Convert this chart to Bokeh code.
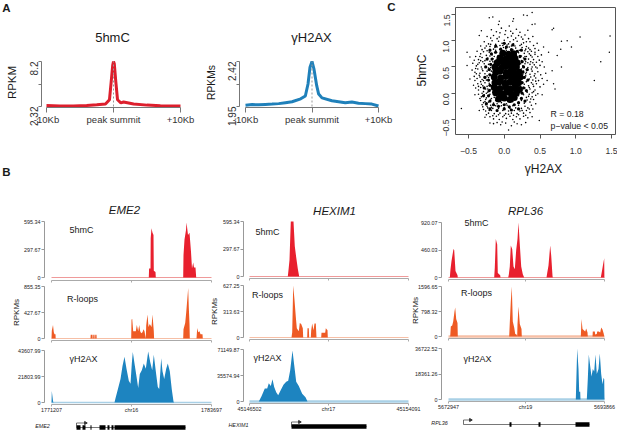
from math import pi
from bokeh.core.properties import value
from bokeh.embed import file_html
from bokeh.layouts import column
from bokeh.models import FixedTicker, LinearAxis, Range1d
from bokeh.plotting import figure
from bokeh.resources import INLINE

FONT = "Liberation Sans"
RED, ORANGE, BLUE = "#e8202e", "#ee5a24", "#1d84c0"
RED_L, ORANGE_L, BLUE_L = "#ef9a9a", "#f6bfa6", "#a9d0e6"
PAD_L, PAD_R = 40, 30

# ---- Panel A, average profiles
kb_5hmc = [-10, -8, -6, -4, -2.5, -1.2, -0.6, -0.35, -0.12, 0, 0.12, 0.35, 0.6, 1.1, 1.5, 3, 5, 7, 10]
val_5hmc = [2.45, 2.4, 2.4, 2.45, 2.55, 2.65, 3.2, 5.5, 7.7, 8.2, 7.9, 5.5, 3.2, 2.8, 2.9, 2.65, 2.5, 2.42, 2.38]
kb_h2ax = [-10, -9, -8, -7, -6, -5, -4, -3, -1.7, -1, -0.6, -0.3, 0, 0.3, 0.7, 1, 1.5, 3, 4, 5, 6, 7, 8, 9, 10]
val_h2ax = [1.964, 1.97, 1.968, 1.972, 1.975, 1.98, 1.99, 2.0, 2.03, 2.06, 2.185, 2.36, 2.42, 2.34, 2.17, 2.08, 2.04, 2.01, 2.0, 1.99, 1.996, 1.985, 1.98, 1.975, 1.955]

# ---- Panel C, scatter
scatter_outer = [(-.60,-.29),(1.26,.24),(1.35,.60),(1.47,.78),(1.48,1.09),(1.06,1.07),(.94,.88),(.88,1.0),(.80,.99),(.79,.84),
 (.69,1.24),(.67,1.21),(.74,.72),(.80,.50),(.39,1.54),(.27,1.49),(.32,1.48),(.43,1.32),(.39,1.31),(.13,1.42),(.12,1.37),
 (-.07,1.37),(-.08,1.31),(-.16,1.45),(-.21,1.44),(-.32,1.19),(-.35,1.10),(-.52,.78),(-.52,.53),(-.48,.69),(-.42,.63),
 (-.48,.27),(-.43,.15),(-.41,.24),(-.41,-.03),(-.35,-.33),(-.27,-.46),(-.2,-.57),(-.03,-.55),(.06,-.70),(.18,-.58),(.49,-.52),
 (.71,.08),(.69,.18),(.60,.24),(.53,-.03),(.67,.43),(.62,.78),(.55,.88)]
scatter_mid = [(-.18,1.21),(-.11,1.17),(-.04,1.24),(.02,1.19),(.07,1.28),(.12,1.14),(.17,1.22),(.22,1.16),(.29,1.11),(.33,1.2),(-.24,1.08),
 (-.15,1.1),(-.07,1.07),(.01,1.12),(.05,1.06),(.1,1.09),(.16,1.05),(.2,1.1),(.26,1.03),(.34,1.04),(.4,1.08),(-.28,.98),(-.22,.94),(-.17,1.0),
 (-.12,.93),(-.08,.99),(-.03,.95),(.0,1.01),(.04,.92),(.08,.98),(.13,.94),(.18,.99),(.22,.91),(.27,.96),(.31,.89),(.36,.98),(.41,.91),(.46,.95),
 (-.33,.9),(-.27,.86),(-.2,.89),(-.15,.84),(-.1,.88),(-.05,.83),(-.01,.87),(.03,.82),(.07,.88),(.12,.83),(.16,.86),(.21,.82),(.25,.87),(.29,.81),
 (.34,.86),(.38,.8),(.43,.85),(.48,.82),(-.38,.8),(-.33,.75),(-.29,.79),(-.25,.72),(-.21,.78),(-.17,.73),(-.13,.77),(-.09,.71),(-.05,.76),(.12,.75),
 (.17,.72),(.2,.77),(.24,.71),(.28,.76),(.31,.7),(.35,.75),(.39,.69),(.43,.74),(.47,.7),(.52,.73),(-.4,.7),(-.36,.64),(-.31,.68),(-.27,.62),(-.23,.67),
 (-.2,.61),(-.16,.66),(.24,.62),(.27,.67),(.3,.6),(.34,.65),(.37,.6),(.41,.64),(.45,.59),(.49,.63),(.53,.6),(-.44,.57),(-.39,.52),(-.35,.58),(-.32,.5),
 (-.28,.56),(-.25,.5),(-.22,.55),(-.19,.49),(.26,.52),(.29,.56),(.33,.49),(.36,.55),(.39,.5),(.42,.54),(.46,.48),(.5,.53),(.56,.5),(-.45,.44),(-.41,.4),
 (-.37,.46),(-.34,.38),(-.3,.43),(-.27,.37),(-.24,.42),(-.21,.36),(.27,.42),(.3,.37),(.33,.44),(.36,.36),(.39,.42),(.43,.37),(.47,.41),(.51,.35),(.58,.38),
 (-.42,.32),(-.38,.28),(-.35,.34),(-.31,.26),(-.28,.31),(-.25,.25),(-.22,.3),(.26,.28),(.3,.33),(.33,.26),(.37,.31),(.4,.25),(.44,.29),(.48,.24),(.53,.28),
 (-.37,.18),(-.33,.22),(-.3,.14),(-.27,.2),(-.24,.13),(-.21,.19),(.28,.17),(.31,.22),(.34,.14),(.38,.2),(.41,.13),(.45,.18),(.5,.12),(.55,.17),(-.4,.1),
 (-.36,.06),(-.33,.11),(-.29,.03),(-.26,.08),(-.23,.02),(-.2,.07),(.25,.06),(.29,.1),(.32,.02),(.36,.08),(.39,.01),(.43,.06),(.47,-.01),(-.36,-.02),(-.32,-.07),
 (-.28,-.03),(-.25,-.09),(-.21,-.04),(-.18,-.1),(.2,-.05),(.24,-.09),(.27,-.03),(.31,-.08),(.35,-.02),(.39,-.07),(.44,-.04),(-.33,-.14),(-.29,-.18),(-.26,-.12),
 (-.22,-.17),(-.19,-.13),(-.15,-.19),(-.12,-.14),(.12,-.16),(.16,-.12),(.2,-.18),(.24,-.14),(.28,-.19),(.32,-.13),(.36,-.17),(.41,-.12),(-.3,-.26),(-.26,-.22),
 (-.23,-.28),(-.19,-.23),(-.16,-.29),(-.12,-.24),(-.08,-.29),(-.04,-.24),(0,-.28),(.04,-.23),(.08,-.29),(.12,-.24),(.16,-.28),(.2,-.23),(.24,-.29),(.29,-.25),
 (.33,-.28),(.38,-.23),(-.26,-.34),(-.22,-.38),(-.18,-.33),(-.14,-.39),(-.1,-.34),(-.06,-.38),(-.02,-.33),(.02,-.39),(.06,-.34),(.1,-.38),(.14,-.33),(.18,-.39),
 (.22,-.34),(.27,-.38),(.31,-.33),(.36,-.37),(-.2,-.45),(-.15,-.49),(-.11,-.44),(-.07,-.5),(-.02,-.45),(.03,-.48),(.08,-.44),(.12,-.5),(.17,-.45),(.22,-.49),(.27,-.44),
 (.33,-.47),(.39,-.45),(-.1,-.56),(-.05,-.6),(.02,-.57),(.1,-.62),(.14,-.55),(.24,-.6),(.3,-.56),(-.15,-.58),
 (-.16,.6),(-.18,.42),(-.17,.28),(-.18,.14),(-.16,.02),(-.14,-.08),(.26,.36),(.24,.46),(.23,.56),(.22,.68),(.19,.02),(.23,.12),(-.1,.64),(-.05,.7),(.02,.76),(.08,.72),
 (-.14,.7),(.15,.69),(-.1,-.2),(-.04,-.18),(.03,-.2),(.08,-.17),(-.06,.91),(.1,.9),(.02,.85),(-.12,.82),(.18,.79),(-.2,.71),(-.22,.48),(-.24,.33),(-.23,.08),(-.2,-.02),
 (-.31,.83),(-.24,.81),(-.19,.93),(-.13,.87),(-.02,.91),(.06,.94),(.15,.9),(.24,.93),(.3,.84),(.36,.83),(-.34,.7),(-.3,.6),(-.33,.62),(-.37,.55),(-.4,.47),(-.31,.46),(-.34,.31),
 (-.39,.37),(-.29,.24),(-.32,.17),(-.36,.13),(-.28,.09),(-.31,.0),(-.25,.0),(-.34,-.1),(-.27,-.16),(-.31,-.22),(-.24,-.25),(-.18,-.27),(-.21,-.33),(-.29,-.31),(-.16,-.43),(-.25,-.41),
 (-.08,-.41),(0,-.42),(.06,-.4),(.13,-.42),(.2,-.41),(.25,-.33),(.3,-.42),(.35,-.3),(.4,-.3),(.44,-.2),(.37,-.11),(.34,-.06),(.41,.03),(.35,.11),(.4,.17),(.44,.23),(.35,.27),(.42,.33),
 (.31,.4),(.38,.46),(.44,.5),(.33,.58),(.4,.58),(.29,.7),(.37,.72),(.43,.78),(.33,.79),(-.06,1.15),(.09,1.18),(.24,1.07),(-.19,1.05),(-.1,1.04),(.13,1.02),(.31,.98),(-.25,.9)]
scatter_halo = [(-.2,-.15),(-.22,-.05),(-.21,.05),(-.2,.15),(-.22,.25),(-.2,.35),(-.21,.45),(-.19,.55),(-.17,.65),(-.18,.75),(.24,-.1),(.25,0),(.27,.1),(.25,.2),(.28,.3),(.26,.4),(.27,.5),(.25,.6),(.22,.7),(.18,.8),
 (-.15,-.22),(-.08,-.25),(0,-.22),(.07,-.26),(.14,-.22),(.2,-.18),(-.12,.78),(-.05,.84),(.03,.88),(.1,.83),(-.28,.1),(-.27,.3),(-.26,.5),(-.24,.65),(-.29,-.05),(-.25,-.2),(.31,.05),(.33,.25),(.32,.45),(.29,.65),(.29,-.15),(.1,-.32),(-.1,-.33),(0,-.3),(-.2,-.3),(.2,-.3),(.0,.95),(.12,.92),(-.12,.9),(.24,.82),(-.2,.82)]
core_x = [-.08,0,.08,.14,-.12,-.05,.03,.1,.17,-.14,-.06,.02,.09,.16,.21,-.13,-.07,.01,.08,.15,.2,-.14,-.05,.02,.1,.16,.22,-.12,-.06,.03,.09,.15,.21,-.13,-.04,.02,.1,.17,-.1,-.03,.04,.11,.18,-.06,.02,.09,.15,-.02,.06,.13]
core_y = [-.11,-.09,-.12,-.08,.01,-.01,.02,-.02,.01,.11,.09,.12,.08,.1,.07,.2,.22,.19,.21,.18,.2,.31,.29,.32,.3,.28,.31,.4,.42,.39,.41,.38,.4,.5,.48,.51,.49,.5,.58,.6,.57,.59,.58,.67,.65,.68,.66,.76,.74,.75]

# ---- Panel B, tracks: position along the locus, signal in % of track maximum
eme2_5hmc_x = [97.3,97.6,99,99.2,100,101,102,102.3,104,104.3,131.7,132,133,134.5,135,136.5,138,139.5,140.5,141.7,142.5,144,144.7]
eme2_5hmc_y = [0,16,16,70,88,80,76,12,10,0,0,40,68,85,98,76,80,46,16,27,18,18,0]
eme2_rloop_x = [0,.3,1.5,2.3,3,4,4.2,39,39.2,41,41.2,41.6,41.8,43,43.2,43.6,43.8,45,45.2,79.7,80,80.7,81.7,84.3,85.3,86.7,87.7,88.7,89.7,91,92,93,94.3,94.7,96,97,98.3,100,101,102.3,102.6,131.7,132,133.7,134.7,136.7,137.3,138,138.3,145,145.7,146.7,148,149,151,151.3]
eme2_rloop_y = [0,15,26,12,8,8,0,0,7,7,0,0,7,7,0,0,7,7,0,0,36,38,14,14,26,14,26,14,10,12,18,14,0,25,46,22,28,22,46,14,0,0,18,30,50,97,60,28,0,0,20,12,14,8,8,0]
eme2_h2ax_x = [0,.3,1.6,2,63,64,66.3,69,71,73,75,77.3,79,80.3,81.3,83,85,86.7,88.3,90.3,92.3,94.3,96.7,98.7,100.7,102.3,104.3,106.3,107.7,109.7,111,112.7,114.7,116.3,118.3,120.3,122,122.5]
eme2_h2ax_y = [0,22,2,0,0,8,25,45,70,88,65,42,36,75,97,75,50,28,55,62,75,65,98,78,62,92,60,30,26,85,60,45,65,75,60,25,2,0]
hex_5hmc_x = [38.3,39,40,41.3,44,45.3,46.7,48.3,49.7]
hex_5hmc_y = [0,12,30,100,100,55,35,14,0]
hex_rloop_x = [42,42.7,43.7,45,46.3,47.3,49.3,50.3,51.7,53.3,53.7,57.7,58,59.3,59.7,61.3,61.7,62.7,64,65,66.3,67,71.7,72,75.7,76.3,78,78.3]
hex_rloop_y = [0,10,100,72,40,18,12,28,26,18,0,0,18,18,0,0,14,27,14,27,27,0,0,9,9,18,14,0]
hex_h2ax_x = [9.3,12,15.3,17.7,19.3,21.3,23,24.7,26.7,28.7,31.3,34,36.7,38.7,40.7,43,44.7,46.7,49.3,52.7,56,58]
hex_h2ax_y = [0,10,25,25,35,30,43,28,18,12,22,32,38,40,60,98,70,38,30,15,8,0]
rpl_5hmc_x = [1.3,2,3,5,5.7,7,9,9.3,45.7,46.3,47.3,48.7,49.3,51.7,52,59.7,60.3,61.3,62.3,63.7,65,66.3,67.7,69,70,71.3,72.7,74.3,75.7,98,98.7,100,101.7,102.7,104,104.3,152.3,153.3,154.7,155.7,155.9]
rpl_5hmc_y = [0,15,30,52,50,12,4,0,0,18,70,60,8,4,0,0,5,20,58,52,20,15,50,70,100,60,20,6,0,0,8,22,58,40,3,0,0,10,25,35,0]
rpl_rloop_x = [1.7,2.3,3.7,4.7,6,6.7,7.7,9,9.3,60.7,61.3,62.3,63.3,64.3,65.7,66.7,68,68.7,69,70,71.3,73,73.3,132.3,133,134,136.7,137.7,139,139.3,144,144.3,146.3,146.7,148.3,148.7,150.3,151.7,152.7,154,155.3,155.7]
rpl_rloop_y = [0,20,22,30,50,58,35,27,0,0,28,70,100,30,18,5,4,0,25,60,25,15,0,0,35,15,10,16,8,0,0,10,10,4,5,10,10,8,18,14,5,0]
rpl_h2ax_x = [127.3,128.7,130,130.7,131.7,132,138.3,139.3,140.3,141.7,143,144.3,145.7,147,148.3,150,151.3,152.7,154,155,155.7,156]
rpl_h2ax_y = [0,100,60,15,15,0,0,40,88,65,45,60,55,88,50,60,90,50,30,42,40,0]

# ---- Gene models: exon start / end, transcript span in the same positions
eme2_exon_s, eme2_exon_e = [25,31,39,48,56,60,63], [29,34,40,54,58,62,134]
eme2_span, eme2_tss = (25, 134), (25, 34)
hex_exon_s, hex_exon_e = [42], [117]
hex_span, hex_tss = (42, 117), (42, 50)
rpl_exon_s, rpl_exon_e = [61,90,127], [63,92,141]
rpl_span, rpl_tss = (15, 141), (15, 22)


def panel(L, R, T, B, x_cal, y_cal):
    """Figure whose frame occupies page box L..R, T..B; *_cal = (px0, val0, px1, val1)."""
    pt, pb = min(T, 8), min(430 - B, 24)
    sx = (x_cal[3] - x_cal[1]) / (x_cal[2] - x_cal[0])
    sy = (y_cal[3] - y_cal[1]) / (y_cal[2] - y_cal[0])
    fig = figure(width=R - L + PAD_L + PAD_R, height=B - T + pt + pb, output_backend="svg", toolbar_location=None,
                 x_range=Range1d(x_cal[1] + (L - x_cal[0]) * sx, x_cal[1] + (R - x_cal[0]) * sx),
                 y_range=Range1d(y_cal[1] + (B - y_cal[0]) * sy, y_cal[1] + (T - y_cal[0]) * sy),
                 min_border_left=PAD_L, min_border_right=PAD_R, min_border_top=pt, min_border_bottom=pb,
                 x_axis_location=None, y_axis_location=None, background_fill_color=None, border_fill_color=None,
                 outline_line_color=None, tools="",
                 styles={"position": "absolute", "left": f"{L - PAD_L}px", "top": f"{T - pt}px"})
    fig.grid.visible = False
    return fig


def axis(fig, side, ticks, labels, bounds, color, text_color, size, tick_out, standoff, vertical=False):
    ax = LinearAxis(ticker=FixedTicker(ticks=ticks), major_label_overrides=dict(zip(ticks, labels)), bounds=bounds,
                    axis_line_color=color, major_tick_line_color=color, minor_tick_line_color=None,
                    major_tick_in=0, major_tick_out=tick_out, major_label_standoff=standoff,
                    major_label_text_font=FONT, major_label_text_font_size=size, major_label_text_color=text_color)
    if vertical:
        ax.major_label_orientation = pi / 2
    fig.add_layout(ax, side)
    return ax


# Panel A
profiles = []
for xs, ys, col, L, x0, x1, lo, hi, lo_l, hi_l in [
        (kb_5hmc, val_5hmc, "#dd1f2d", 41, 46, 180, 2.32, 8.2, "2.32", "8.2"),
        (kb_h2ax, val_h2ax, "#1f80ba", 239, 245, 378, 1.95, 2.42, "1.95", "2.42")]:
    f = panel(L, x1 + 3, 58, 107, (x0, -10, x1, 10), (106, lo, 61, hi))
    f.line(xs, ys, line_color=col, line_width=3)
    f.line([0, 0], [lo, hi], line_color="#999999", line_dash="2 2", line_width=1)
    axis(f, "below", [-10, 0, 10], ["-10Kb", "peak summit", "+10Kb"], (-10, 10), "#777777", "#333333", "9.5px", 5, 1)
    axis(f, "left", [lo, (lo + hi) / 2, hi], [lo_l, "", hi_l], (lo, hi), "#777777", "#333333", "10px", 3, 5, vertical=True)
    profiles.append(f)

# Panel C
sc = panel(455, 615, 7, 134, (468, -0.5, 611, 1.5), (92.7, 0.0, 14, 1.5))
sc.outline_line_color = "#555555"
sc.scatter(core_x, core_y, size=7, color="black", line_color=None)
sc.scatter([p[0] for p in scatter_halo], [p[1] for p in scatter_halo], size=3.2, color="black", line_color=None)
sc.scatter([p[0] for p in scatter_mid], [p[1] for p in scatter_mid], size=1.6, color="black", line_color=None)
sc.scatter([p[0] for p in scatter_outer], [p[1] for p in scatter_outer], size=1.5, color="black", line_color=None)
xt = [-0.5, 0.0, 0.5, 1.0, 1.5]
axis(sc, "below", xt, ["−0.5", "0.0", "0.5", "1.0", "1.5"], (-0.5, 1.5), "#555555", "#333333", "8.6px", 4, 9).axis_line_color = None
axis(sc, "left", xt, ["−0.5", "0.0", "0.5", "1.0", "1.5"], (-0.5, 1.5), "#555555", "#333333", "8.6px", 4, 5, vertical=True).axis_line_color = None

# Panel B tracks
columns_spec = [
    dict(yax=44, start=51, end=211, mid=80, right=160, labels=["1771207", "chr16", "1783697"], rows=[
        (221, 277, 280, 595.34, "297.67", eme2_5hmc_x, eme2_5hmc_y, RED, RED_L, 1),
        (286, 338, 340, 855.35, "427.67", eme2_rloop_x, eme2_rloop_y, ORANGE, ORANGE_L, 1),
        (350, 402, 404, 43607.99, "21803.99", eme2_h2ax_x, eme2_h2ax_y, BLUE, BLUE_L, 1.5)]),
    dict(yax=243, start=249, end=408, mid=79, right=159, labels=["45146502", "chr17", "45154091"], rows=[
        (221, 276, 278, 595.34, "297.67", hex_5hmc_x, hex_5hmc_y, RED, RED_L, 1),
        (285, 337, 339, 627.25, "313.63", hex_rloop_x, hex_rloop_y, ORANGE, ORANGE_L, 1),
        (349, 401, 403, 71149.87, "35574.94", hex_h2ax_x, hex_h2ax_y, BLUE, BLUE_L, 2.5)]),
    dict(yax=441, start=448, end=604, mid=77, right=156, labels=["5672947", "chr19", "5693866"], rows=[
        (222, 277, 279, 920.07, "460.03", rpl_5hmc_x, rpl_5hmc_y, RED, RED_L, 1),
        (286, 336, 338, 1596.65, "798.32", rpl_rloop_x, rpl_rloop_y, ORANGE, ORANGE_L, 2.5),
        (348, 399, 401, 36722.52, "18361.26", rpl_h2ax_x, rpl_h2ax_y, BLUE, BLUE_L, 2.5)]),
]
tracks = []
for c in columns_spec:
    for i, (top, base, ax_y, ymax, mid_l, xs, pct, col, col_l, base_w) in enumerate(c["rows"]):
        f = panel(c["yax"], c["end"] + 1, top - 2, ax_y, (c["start"], 0, c["end"], c["right"]), (base, 0, top, ymax))
        ys = [v * ymax / 100 for v in pct]
        f.line([0, c["right"]], [0, 0], line_color=col_l, line_width=base_w)
        f.varea(xs, [0] * len(xs), ys, fill_color=col)
        last = i == 2
        axis(f, "below", [0, c["mid"], c["right"]], c["labels"] if last else ["", "", ""], (0, c["right"]),
             "#aaaaaa", "#222222", "5.4px" if last else "1px", 2, 0)
        axis(f, "left", [0, ymax / 2, ymax], ["0", mid_l, f"{ymax:.2f}"], (0, ymax), "#999999", "#222222", "5.4px", 3, 1)
        tracks.append(f)

# Gene models
genes = []
for c, ys_top, s, e, span, tss, thin in [
        (columns_spec[0], 421, eme2_exon_s, eme2_exon_e, eme2_span, eme2_tss, 427),
        (columns_spec[1], 420, hex_exon_s, hex_exon_e, hex_span, hex_tss, 426),
        (columns_spec[2], 418, rpl_exon_s, rpl_exon_e, rpl_span, rpl_tss, 424)]:
    g = panel(c["start"], c["end"], ys_top - 2, 430, (c["start"], 0, c["end"], c["right"]), (430, 0, ys_top, 430 - ys_top))
    mid = 430 - thin  # vertical data units are pixels above the strip's bottom edge
    g.line(list(span), [mid, mid], line_color="#555555", line_width=0.8)
    g.quad(left=s, right=e, bottom=[mid - 2.2] * len(s), top=[mid + 2.2] * len(s), fill_color="black", line_color=None)
    g.line([tss[0], tss[0], tss[1]], [mid, mid + 4.5, mid + 4.5], line_color="#333333", line_width=0.7)
    g.scatter([tss[1]], [mid + 4.5], marker="triangle", size=3, angle=-pi / 2, color="#333333")
    genes.append(g)

# Free texts, in page coordinates on a background sheet
BGW = 617 + PAD_L + PAD_R
bg = figure(width=BGW, height=430, x_range=Range1d(0, 617), y_range=Range1d(430, 0), output_backend="svg",
            toolbar_location=None, x_axis_location=None, y_axis_location=None, tools="",
            min_border_left=PAD_L, min_border_right=PAD_R, min_border_top=0, min_border_bottom=0,
            outline_line_color=None, background_fill_color=None, border_fill_color=None,
            styles={"position": "absolute", "left": f"{-PAD_L}px", "top": "0px",
                    "width": f"{BGW}px", "min-width": f"{BGW}px", "max-width": "none"})
bg.grid.visible = False
texts = [
    ("A", 6, 7, 11.5, "bold", 0), ("B", 6, 171, 11.5, "bold", 0), ("C", 391, 6, 11.5, "bold", 0),
    ("5hmC", 112, 37, 13, "normal", 0), ("γH2AX", 311, 37, 13, "normal", 0),
    ("RPKM", 11, 82, 11.5, "normal", 90), ("RPKMs", 211, 82, 10.3, "normal", 90),
    ("5hmC", 421, 70, 12, "normal", 90), ("γH2AX", 543, 168, 12, "normal", 0),
    ("EME2", 124, 209.5, 11.5, "italic", 0), ("HEXIM1", 334, 210, 11.5, "italic", 0), ("RPL36", 525, 210, 11.5, "italic", 0),
    ("5hmC", 81, 229, 9, "normal", 0), ("R-loops", 82, 298, 9, "normal", 0), ("γH2AX", 83, 358, 9, "normal", 0),
    ("5hmC", 267, 231, 9, "normal", 0), ("R-loops", 267, 294, 9, "normal", 0), ("γH2AX", 267, 357, 9, "normal", 0),
    ("5hmC", 476, 222, 9, "normal", 0), ("R-loops", 476, 292, 9, "normal", 0), ("γH2AX", 477, 358, 9, "normal", 0),
    ("RPKMs", 16, 312, 8, "normal", 90), ("RPKMs", 214, 311, 8, "normal", 90), ("RPKMs", 415, 310, 8, "normal", 90),
    ("EME2", 42, 425, 5.4, "italic", 0), ("HEXIM1", 238, 424, 5.4, "italic", 0), ("RPL36", 439, 422, 5.4, "italic", 0),
]
for t, x, y, s, st, ang in texts:
    bg.text([x], [y], text=[t], text_font=value(FONT), text_font_size=f"{s}px", text_font_style=st,
            text_align="center", text_baseline="middle", text_color="#1a1a1a", angle=ang * pi / 180)
for t, y in [("R = 0.18", 113), ("p−value < 0.05", 125)]:
    bg.text([550], [y], text=[t], text_font=value(FONT), text_font_size="8.7px", text_align="left",
            text_baseline="middle", text_color="#222222")

root = column(children=[bg] + profiles + [sc] + tracks + genes, width=617, height=430, margin=0,
              styles={"position": "relative", "overflow": "hidden"})
open("out.html", "w").write(file_html(root, INLINE))
